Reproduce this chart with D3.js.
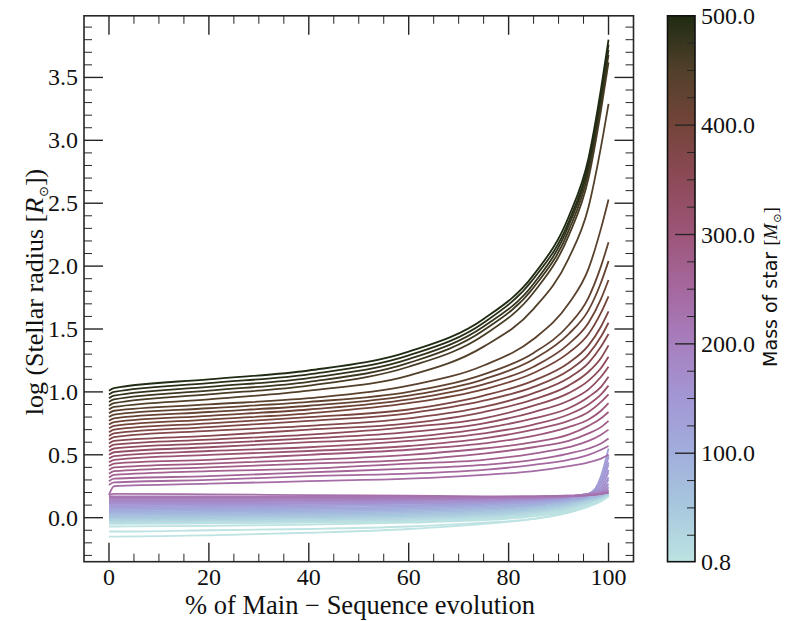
<!DOCTYPE html>
<html>
<head>
<meta charset="utf-8">
<script src="https://cdn.jsdelivr.net/npm/d3@7"></script>
<style>
  html, body { margin: 0; padding: 0; background: #fff; }
  svg { display: block; }
</style>
</head>
<body>
<svg id="chart" width="785" height="621"></svg>
<script>
// ---------------- DATA ----------------
// evolution points (% of main sequence) at which each track is sampled
const evolutionPct = [0, 1, 20, 40, 60, 75, 85, 92, 96, 98.5, 100];

// stellar masses (Msun) of the plotted tracks
const masses = [0.8, 1, 2, 5, 10, 20, 30, 40, 50, 60, 70, 80, 90, 100, 110, 120, 130, 140, 150,
  160, 170, 180, 190, 200, 210, 220, 230,
  240, 250, 260, 270, 280, 290, 300, 310, 320, 330, 340, 350, 360, 370, 380, 390, 400,
  410, 420, 430, 440, 450, 460, 470, 480, 490, 500];

// log(R/Rsun) of each track at the evolution points above
const logRadius = [
  [-.15,-.15,-.14,-.12,-.09,-.05,-.01,.04,.09,.13,.17],
  [-.11,-.11,-.10,-.09,-.07,-.04,-.01,.04,.09,.13,.17],
  [-.07,-.07,-.065,-.055,-.04,-.02,.01,.05,.10,.14,.17],
  [-.05,-.05,-.045,-.04,-.03,-.01,.02,.06,.11,.15,.18],
  [-.04,-.04,-.035,-.03,-.02,0,.03,.07,.12,.15,.18],
  [-.03,-.03,-.025,-.02,-.01,.01,.04,.08,.12,.16,.18],
  [-.02,-.02,-.015,-.01,0,.02,.05,.09,.13,.16,.19],
  [-.01,-.01,-.005,0,.01,.03,.06,.10,.14,.17,.19],
  [0,0,.005,.01,.02,.04,.07,.11,.15,.17,.20],
  [.01,.01,.015,.02,.03,.05,.08,.12,.15,.18,.20],
  [.02,.02,.025,.03,.04,.06,.09,.12,.16,.18,.22],
  [.03,.03,.035,.04,.05,.07,.10,.13,.16,.19,.25],
  [.04,.04,.045,.05,.06,.08,.10,.14,.17,.21,.30],
  [.05,.05,.055,.06,.07,.09,.11,.14,.17,.24,.36],
  [.06,.06,.065,.07,.08,.10,.12,.15,.18,.27,.42],
  [.07,.07,.075,.08,.09,.11,.13,.15,.18,.30,.48],
  [.08,.08,.085,.09,.10,.11,.13,.16,.18,.33,.55],
  [.09,.09,.095,.10,.11,.12,.14,.16,.19,.30,.50],
  [.10,.10,.105,.11,.115,.13,.14,.16,.19,.27,.44],
  [.11,.11,.11,.115,.12,.13,.15,.17,.19,.24,.38],
  [.12,.12,.12,.125,.13,.14,.15,.17,.19,.22,.32],
  [.13,.13,.13,.135,.14,.15,.16,.17,.19,.21,.27],
  [.14,.14,.14,.14,.145,.15,.16,.17,.19,.20,.24],
  [.15,.15,.15,.15,.15,.155,.16,.17,.18,.19,.22],
  [.16,.16,.16,.16,.16,.16,.165,.17,.18,.19,.21],
  [.17,.17,.17,.165,.165,.165,.17,.175,.18,.19,.20],
  [.18,.19,.185,.18,.175,.17,.17,.175,.18,.19,.20],
  [.18,.25,.27,.29,.31,.34,.37,.41,.44,.47,.50],
  [.26,.28,.30,.33,.35,.38,.42,.46,.50,.54,.57],
  [.29,.31,.33,.36,.39,.42,.46,.51,.55,.59,.63],
  [.32,.34,.37,.39,.43,.46,.51,.56,.61,.66,.70],
  [.35,.37,.40,.43,.46,.51,.56,.61,.67,.72,.77],
  [.38,.40,.43,.46,.50,.55,.60,.66,.73,.79,.84],
  [.41,.43,.46,.50,.54,.59,.65,.72,.78,.85,.91],
  [.44,.46,.50,.53,.57,.63,.70,.77,.84,.92,.98],
  [.47,.49,.53,.56,.61,.67,.74,.82,.90,.98,1.05],
  [.50,.52,.56,.60,.64,.71,.79,.87,.96,1.04,1.12],
  [.53,.55,.59,.63,.68,.75,.84,.93,1.02,1.12,1.20],
  [.56,.58,.62,.66,.72,.79,.89,.99,1.09,1.19,1.28],
  [.59,.61,.65,.70,.75,.84,.94,1.05,1.16,1.27,1.37],
  [.62,.64,.69,.73,.79,.88,.99,1.11,1.23,1.36,1.46],
  [.65,.67,.72,.77,.83,.93,1.04,1.17,1.30,1.44,1.55],
  [.68,.70,.75,.80,.86,.97,1.09,1.23,1.37,1.52,1.64],
  [.71,.73,.78,.83,.91,1.02,1.15,1.31,1.46,1.63,1.76],
  [.74,.76,.81,.86,.94,1.06,1.20,1.38,1.55,1.74,1.89],
  [.77,.79,.84,.89,.97,1.10,1.26,1.46,1.65,1.87,2.04],
  [.80,.82,.87,.92,1.00,1.14,1.31,1.53,1.75,2.00,2.19],
  [.83,.85,.90,.95,1.05,1.21,1.42,1.70,1.98,2.30,2.53],
  [.86,.88,.94,1.01,1.13,1.36,1.66,2.06,2.47,2.95,3.29],
  [.89,.91,.98,1.05,1.20,1.45,1.79,2.24,2.70,3.24,3.62],
  [.92,.94,1.01,1.08,1.23,1.49,1.83,2.28,2.75,3.30,3.68],
  [.95,.97,1.04,1.11,1.26,1.52,1.86,2.32,2.79,3.34,3.72],
  [.98,1.00,1.07,1.14,1.29,1.55,1.90,2.35,2.82,3.37,3.76],
  [1.01,1.03,1.10,1.17,1.32,1.58,1.93,2.39,2.86,3.41,3.80]
];

// axis ticks
const xTicks = [0, 20, 40, 60, 80, 100];
const yTicks = [0.0, 0.5, 1.0, 1.5, 2.0, 2.5, 3.0, 3.5];
const cbTicks = [0.8, 100, 200, 300, 400, 500];

// colormap stops (mass -> colour)
const cmapMass = [0.8, 50, 100, 150, 200, 250, 300, 350, 400, 450, 500];
const cmapColor = ["#bde3e2", "#a8c8de", "#a1aedc", "#a397d5", "#a77fbe", "#a5689f",
                   "#9d5679", "#8d4a58", "#744439", "#52402a", "#1f2b12"];

// ---------------- LAYOUT ----------------
const svg = d3.select("#chart");
const P = { left: 84, right: 633.5, top: 15.8, bottom: 561.7 };
const CB = { left: 667.5, right: 695, top: 15.8, bottom: 561.7 };
const frameColor = "#262626";
const serif = "'Liberation Serif', 'DejaVu Serif', serif";
const tickFont = 24;

const x = d3.scaleLinear().domain([-5, 105]).range([P.left, P.right]);
const y = d3.scaleLinear().domain([-0.35, 3.99]).range([P.bottom, P.top]);
const color = d3.scaleLinear().domain(cmapMass).range(cmapColor).interpolate(d3.interpolateRgb);

// clip
svg.append("defs").append("clipPath").attr("id", "plotclip")
  .append("rect").attr("x", P.left).attr("y", P.top)
  .attr("width", P.right - P.left).attr("height", P.bottom - P.top);

// tracks
const line = d3.line().x(d => x(d[0])).y(d => y(d[1])).curve(d3.curveMonotoneX);
const tracks = masses.map((m, i) => ({ m, pts: evolutionPct.map((p, j) => [p, logRadius[i][j]]) }));
svg.append("g").attr("clip-path", "url(#plotclip)")
  .selectAll("path").data(tracks).join("path")
  .attr("d", d => line(d.pts))
  .attr("fill", "none")
  .attr("stroke", d => color(d.m))
  .attr("stroke-width", 1.8)
  .attr("stroke-linejoin", "round");

// ---------------- AXES ----------------
function tickGroup() { return svg.append("g").attr("stroke", frameColor).attr("stroke-linecap", "butt"); }
const majorLen = 19, minorLen = 8;
const xMinor = d3.range(-5, 106, 5).filter(v => v % 20 !== 0 && v > -5 && v < 105);
const yMinor = d3.range(-3, 40, 1).map(v => v / 10).filter(v => Math.round(v * 10) % 5 !== 0);

const tg = tickGroup();
xTicks.forEach(v => {
  tg.append("line").attr("x1", x(v)).attr("x2", x(v)).attr("y1", P.bottom).attr("y2", P.bottom - majorLen).attr("stroke-width", 1.4);
  tg.append("line").attr("x1", x(v)).attr("x2", x(v)).attr("y1", P.top).attr("y2", P.top + majorLen).attr("stroke-width", 1.4);
});
xMinor.forEach(v => {
  tg.append("line").attr("x1", x(v)).attr("x2", x(v)).attr("y1", P.bottom).attr("y2", P.bottom - minorLen).attr("stroke-width", 1);
  tg.append("line").attr("x1", x(v)).attr("x2", x(v)).attr("y1", P.top).attr("y2", P.top + minorLen).attr("stroke-width", 1);
});
yTicks.forEach(v => {
  tg.append("line").attr("y1", y(v)).attr("y2", y(v)).attr("x1", P.left).attr("x2", P.left + majorLen).attr("stroke-width", 1.4);
  tg.append("line").attr("y1", y(v)).attr("y2", y(v)).attr("x1", P.right).attr("x2", P.right - majorLen).attr("stroke-width", 1.4);
});
yMinor.forEach(v => {
  tg.append("line").attr("y1", y(v)).attr("y2", y(v)).attr("x1", P.left).attr("x2", P.left + minorLen).attr("stroke-width", 1);
  tg.append("line").attr("y1", y(v)).attr("y2", y(v)).attr("x1", P.right).attr("x2", P.right - minorLen).attr("stroke-width", 1);
});

svg.append("rect").attr("x", P.left).attr("y", P.top)
  .attr("width", P.right - P.left).attr("height", P.bottom - P.top)
  .attr("fill", "none").attr("stroke", frameColor).attr("stroke-width", 1.6);

// tick labels
svg.append("g").selectAll("text").data(xTicks).join("text")
  .attr("x", d => x(d)).attr("y", 585)
  .attr("text-anchor", "middle").attr("font-family", serif).attr("font-size", tickFont).attr("fill", "#111")
  .text(d => d3.format("d")(d));
svg.append("g").selectAll("text").data(yTicks).join("text")
  .attr("x", 78).attr("y", d => y(d) + 8)
  .attr("text-anchor", "end").attr("font-family", serif).attr("font-size", tickFont).attr("fill", "#111")
  .text(d => d3.format(".1f")(d));

// axis titles
svg.append("text").attr("x", 360).attr("y", 614)
  .attr("text-anchor", "middle").attr("font-family", serif).attr("font-size", 26.5).attr("fill", "#111")
  .text("% of Main \u2212 Sequence evolution");

const yt = svg.append("text").attr("transform", "translate(43,292) rotate(-90)")
  .attr("text-anchor", "middle").attr("font-family", serif).attr("font-size", 26).attr("fill", "#111");
yt.append("tspan").text("log (Stellar radius [");
yt.append("tspan").attr("font-style", "italic").text("R");
yt.append("tspan").attr("font-family", "'DejaVu Sans', sans-serif").attr("font-size", 13).attr("dx", 1).attr("dy", 5).text("\u2299");
yt.append("tspan").attr("dy", -5).text("])");

// ---------------- COLORBAR ----------------
const grad = svg.select("defs").append("linearGradient").attr("id", "cbgrad")
  .attr("x1", 0).attr("y1", 1).attr("x2", 0).attr("y2", 0);
cmapMass.forEach((m, i) => {
  grad.append("stop").attr("offset", (m - 0.8) / (500 - 0.8)).attr("stop-color", cmapColor[i]);
});
const cb = d3.scaleLinear().domain([0.8, 500]).range([CB.bottom, CB.top]);
svg.append("rect").attr("x", CB.left).attr("y", CB.top)
  .attr("width", CB.right - CB.left).attr("height", CB.bottom - CB.top)
  .attr("fill", "url(#cbgrad)");
const cbg = tickGroup();
[100, 200, 300, 400].forEach(v => {
  cbg.append("line").attr("x1", CB.right).attr("x2", CB.right - 20).attr("y1", cb(v)).attr("y2", cb(v)).attr("stroke-width", 1.4);
});
d3.range(25, 500, 25).filter(v => v % 100 !== 0).forEach(v => {
  cbg.append("line").attr("x1", CB.right).attr("x2", CB.right - 8).attr("y1", cb(v)).attr("y2", cb(v)).attr("stroke-width", 1);
});
svg.append("rect").attr("x", CB.left).attr("y", CB.top)
  .attr("width", CB.right - CB.left).attr("height", CB.bottom - CB.top)
  .attr("fill", "none").attr("stroke", "#111").attr("stroke-width", 1.6);
svg.append("g").selectAll("text").data(cbTicks).join("text")
  .attr("x", 701).attr("y", d => cb(d) + 8)
  .attr("font-family", serif).attr("font-size", tickFont).attr("fill", "#111")
  .text(d => d3.format(".1f")(d));

const ct = svg.append("text").attr("transform", "translate(777,287) rotate(-90)")
  .attr("text-anchor", "middle").attr("font-size", 19).attr("fill", "#111");
ct.append("tspan").attr("font-family", "'DejaVu Sans', sans-serif").text("Mass of star ");
ct.append("tspan").attr("font-family", serif).text("[");
ct.append("tspan").attr("font-family", serif).attr("font-style", "italic").text("M");
ct.append("tspan").attr("font-family", "'DejaVu Sans', sans-serif").attr("font-size", 11).attr("dx", 1).attr("dy", 4).text("\u2299");
ct.append("tspan").attr("font-family", serif).attr("dy", -4).text("]");
</script>
</body>
</html>
